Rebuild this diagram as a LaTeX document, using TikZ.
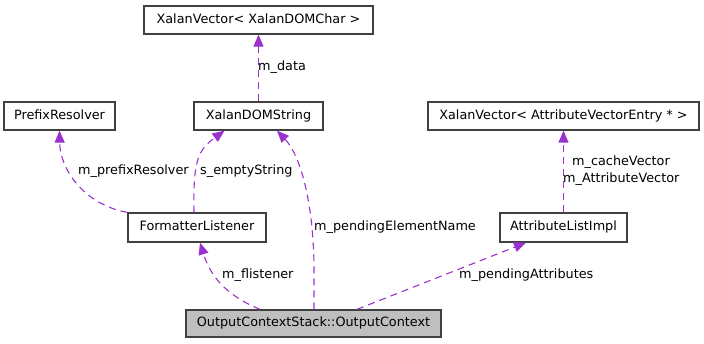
\documentclass[tikz,border=0pt]{standalone}
\usepackage{fontspec}
\setmainfont{DejaVu Sans}
\usetikzlibrary{arrows.meta}
\definecolor{edgecol}{HTML}{9A32CD}
\definecolor{boxline}{HTML}{404040}
\definecolor{boxfill}{HTML}{BFBFBF}
\tikzset{
  cls/.style={draw=boxline, line width=1.3pt, fill=white, inner sep=0pt,
    minimum height=28pt, text height=10pt, text depth=3pt,
    font=\fontsize{12.8pt}{14pt}\selectfont},
  current/.style={cls, fill=boxfill},
  usage/.style={draw=edgecol, line width=1.1pt, dash pattern=on 7pt off 5pt,
    -{Triangle[length=12pt, width=10pt, fill=edgecol]}},
  lbl/.style={anchor=base west, inner sep=0pt,
    font=\fontsize{12.8pt}{16.5pt}\selectfont, align=left}
}
\begin{document}
\begin{tikzpicture}[x=1pt, y=-1pt]
  \useasboundingbox (0,0) rectangle (704,344);

  % classes
  \node[cls, minimum width=229pt] (xvchar) at (258.5,20) {XalanVector< XalanDOMChar >};
  \node[cls, minimum width=111pt] (prefix) at (59.5,116) {PrefixResolver};
  \node[cls, minimum width=129pt] (domstr) at (258.5,116) {XalanDOMString};
  \node[cls, minimum width=271pt] (xvattr) at (563.5,116) {XalanVector< AttributeVectorEntry * >};
  \node[cls, minimum width=138pt, minimum height=29pt] (listener) at (197,227.5) {FormatterListener};
  \node[cls, minimum width=127pt, minimum height=29pt] (attrlist) at (563.5,227.5) {AttributeListImpl};
  \node[current, minimum width=255pt, minimum height=27pt] (ctx) at (313.5,323.5) {OutputContextStack::OutputContext};

  % member relations
  \draw[usage] (domstr.north) -- (xvchar.south);
  \draw[usage] (listener.north west) .. controls (85,205) and (60,170) .. (prefix.south);
  \draw[usage] ([xshift=-3pt]listener.north) .. controls (193,160) and (198,150) .. ([xshift=-34pt]domstr.south);
  \draw[usage] ([xshift=0.5pt]ctx.north) -- (314,265) .. controls (313,200) and (300,155) .. ([xshift=18.5pt]domstr.south);
  \draw[usage] ([xshift=-53.5pt]ctx.north) .. controls (225,295) and (210,275) .. ([xshift=3pt]listener.south);
  \draw[usage] ([xshift=43.5pt]ctx.north) -- ([xshift=-37.5pt]attrlist.south);
  \draw[usage] (attrlist.north) -- (xvattr.south);

  % member names
  \node[lbl] (ldata) at (258,71) {m\_data};
  \node[lbl] (lprefix) at (78,175) {m\_prefixResolver};
  \node[lbl] (lempty) at (200,175) {s\_emptyString};
  \node[lbl] (lpending) at (314,231) {m\_pendingElementName};
  \node[lbl] (lflist) at (222,279) {m\_flistener};
  \node[lbl] (lattrs) at (459,279) {m\_pendingAttributes};
  \node[lbl] (lcache) at (572,166) {m\_cacheVector};
  \node[lbl] (lattrvec) at (563,182.5) {m\_AttributeVector};
\end{tikzpicture}
\end{document}
